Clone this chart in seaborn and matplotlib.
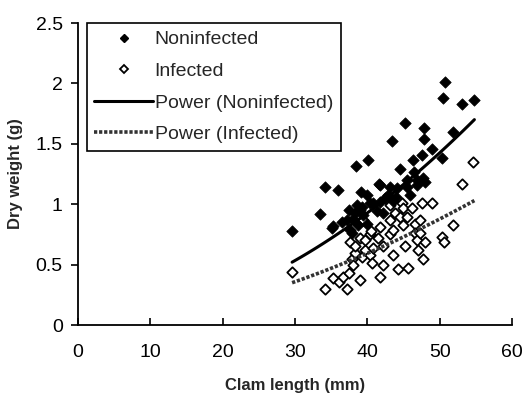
import numpy as np
import pandas as pd
import matplotlib
matplotlib.use("Agg")
import matplotlib.pyplot as plt
from matplotlib.lines import Line2D
import seaborn as sns

# ---- data ----
noninf_len = [29.6, 33.5, 34.1, 35.1, 35.3, 36.0, 36.5, 37.2, 37.5, 37.6, 37.9, 38.0,
              38.3, 38.4, 38.6, 38.7, 39.0, 39.1, 39.3, 39.4, 40.0, 40.0, 40.1, 40.4,
              40.8, 41.3, 41.6, 41.8, 41.8, 42.2, 42.5, 42.9, 43.1, 43.4, 43.6, 44.0,
              44.1, 44.5, 45.2, 45.5, 45.5, 45.9, 46.3, 46.5, 46.9, 46.9, 47.6, 47.7,
              47.8, 47.8, 48.0, 48.9, 50.3, 50.5, 50.7, 51.8, 53.1, 54.8]
noninf_wt = [0.78, 0.92, 1.14, 0.80, 0.82, 1.12, 0.85, 0.87, 0.95, 0.79, 0.76, 0.88,
             0.93, 1.32, 0.99, 0.83, 0.95, 1.10, 0.98, 0.91, 0.84, 1.08, 1.37, 1.01,
             1.01, 0.94, 1.17, 1.02, 1.16, 0.93, 1.05, 1.08, 1.14, 1.52, 1.03, 1.06,
             1.13, 1.29, 1.67, 1.14, 1.20, 1.08, 1.37, 1.27, 1.16, 1.20, 1.41, 1.22,
             1.63, 1.54, 1.18, 1.46, 1.38, 1.88, 2.01, 1.60, 1.83, 1.86]

inf_len = [29.6, 34.1, 35.3, 36.1, 36.6, 37.2, 37.5, 37.6, 37.9, 38.0, 38.3, 38.3,
           39.0, 39.0, 39.3, 39.4, 39.7, 39.7, 40.4, 40.4, 40.5, 40.7, 40.8, 41.5,
           41.8, 41.8, 42.2, 42.2, 43.1, 43.1, 43.1, 43.6, 43.6, 43.8, 44.2, 44.5,
           44.8, 44.9, 44.9, 45.2, 45.5, 45.6, 46.2, 46.6, 46.6, 46.9, 47.0, 47.3,
           47.3, 47.6, 47.7, 48.0, 48.9, 50.3, 50.6, 51.8, 53.1, 54.6]
inf_wt = [0.44, 0.30, 0.39, 0.36, 0.40, 0.30, 0.43, 0.69, 0.55, 0.50, 0.60, 0.65,
          0.37, 0.72, 0.56, 0.87, 0.62, 0.70, 0.75, 0.58, 0.78, 0.51, 0.64, 0.72,
          0.40, 0.81, 0.65, 0.50, 0.75, 0.87, 0.99, 0.58, 0.79, 0.93, 0.46, 0.89,
          1.01, 0.83, 0.97, 0.65, 0.89, 0.47, 0.97, 0.84, 0.76, 0.70, 0.62, 0.87,
          0.76, 1.01, 0.55, 0.69, 1.01, 0.73, 0.69, 0.83, 1.17, 1.35]

# power trendlines (y = a * x^b), endpoints
trend_len = [29.6, 54.8]
trend_non_wt = [0.52, 1.70]
trend_inf_wt = [0.35, 1.03]

x_ticks = [0, 10, 20, 30, 40, 50, 60]
y_ticks = [0, 0.5, 1, 1.5, 2, 2.5]
y_tick_labels = ["0", "0.5", "1", "1.5", "2", "2.5"]

df_non = pd.DataFrame({"len": noninf_len, "wt": noninf_wt})
df_inf = pd.DataFrame({"len": inf_len, "wt": inf_wt})


def power_curve(xe, ye):
    b = np.log(ye[1] / ye[0]) / np.log(xe[1] / xe[0])
    a = ye[0] / xe[0] ** b
    xs = np.linspace(xe[0], xe[1], 60)
    return pd.DataFrame({"len": xs, "wt": a * xs ** b})


fit_non = power_curve(trend_len, trend_non_wt)
fit_inf = power_curve(trend_len, trend_inf_wt)

# ---- drawing ----
sns.set_style("white")
plt.rcParams["font.family"] = ["Liberation Sans", "DejaVu Sans"]

fig = plt.figure(figsize=(5.24, 3.96), dpi=100)
ax = fig.add_axes([78 / 524, 71 / 396, (512 - 78) / 524, (373 - 71) / 396])

sns.scatterplot(data=df_inf, x="len", y="wt", ax=ax, marker="D", s=28,
                facecolor="white", edgecolor="black", linewidth=1.3, zorder=3)
sns.scatterplot(data=df_non, x="len", y="wt", ax=ax, marker="D", s=34,
                color="black", edgecolor="black", linewidth=0.5, zorder=4)
sns.lineplot(data=fit_non, x="len", y="wt", ax=ax, color="black", lw=2.2, zorder=5)
sns.lineplot(data=fit_inf, x="len", y="wt", ax=ax, color="#333333", lw=2.6,
             linestyle=(0, (0.9, 0.5)), zorder=5)

ax.set_xlim(0, 60)
ax.set_ylim(0, 2.5)
ax.set_xticks(x_ticks)
ax.set_xticklabels([str(t) for t in x_ticks])
ax.set_yticks(y_ticks)
ax.set_yticklabels(y_tick_labels)
ax.tick_params(axis="x", direction="in", length=5, width=1.2, labelsize=14, pad=14, colors="black")
ax.tick_params(axis="y", direction="out", length=5, width=1.2, labelsize=14, pad=6, colors="black")
ax.tick_params(left=True, bottom=True)
for s in ["top", "right"]:
    ax.spines[s].set_visible(False)
for s in ["left", "bottom"]:
    ax.spines[s].set_color("black")
    ax.spines[s].set_linewidth(1.3)

ax.set_xlabel("Clam length (mm)", fontsize=12, fontweight="bold", labelpad=12)
ax.set_ylabel("Dry weight (g)", fontsize=12, fontweight="bold", labelpad=9)

handles = [
    Line2D([], [], marker="D", linestyle="none", color="black", markersize=4.5),
    Line2D([], [], marker="D", linestyle="none", markerfacecolor="white",
           markeredgecolor="black", markeredgewidth=1.3, markersize=4.5),
    Line2D([], [], color="black", lw=2.2),
    Line2D([], [], color="#333333", lw=2.6, linestyle=(0, (0.9, 0.5))),
]
labels = ["Noninfected", "Infected", "Power (Noninfected)", "Power (Infected)"]
leg = ax.legend(handles, labels, loc="upper left", bbox_to_anchor=(0.02, 1.0),
                fontsize=14, frameon=True, fancybox=False, edgecolor="black",
                framealpha=1, handlelength=3.0, handletextpad=0.1,
                labelspacing=0.72, borderpad=0.4, borderaxespad=0.0)
leg.get_frame().set_linewidth(1.2)

fig.savefig("out.png", dpi=100)
